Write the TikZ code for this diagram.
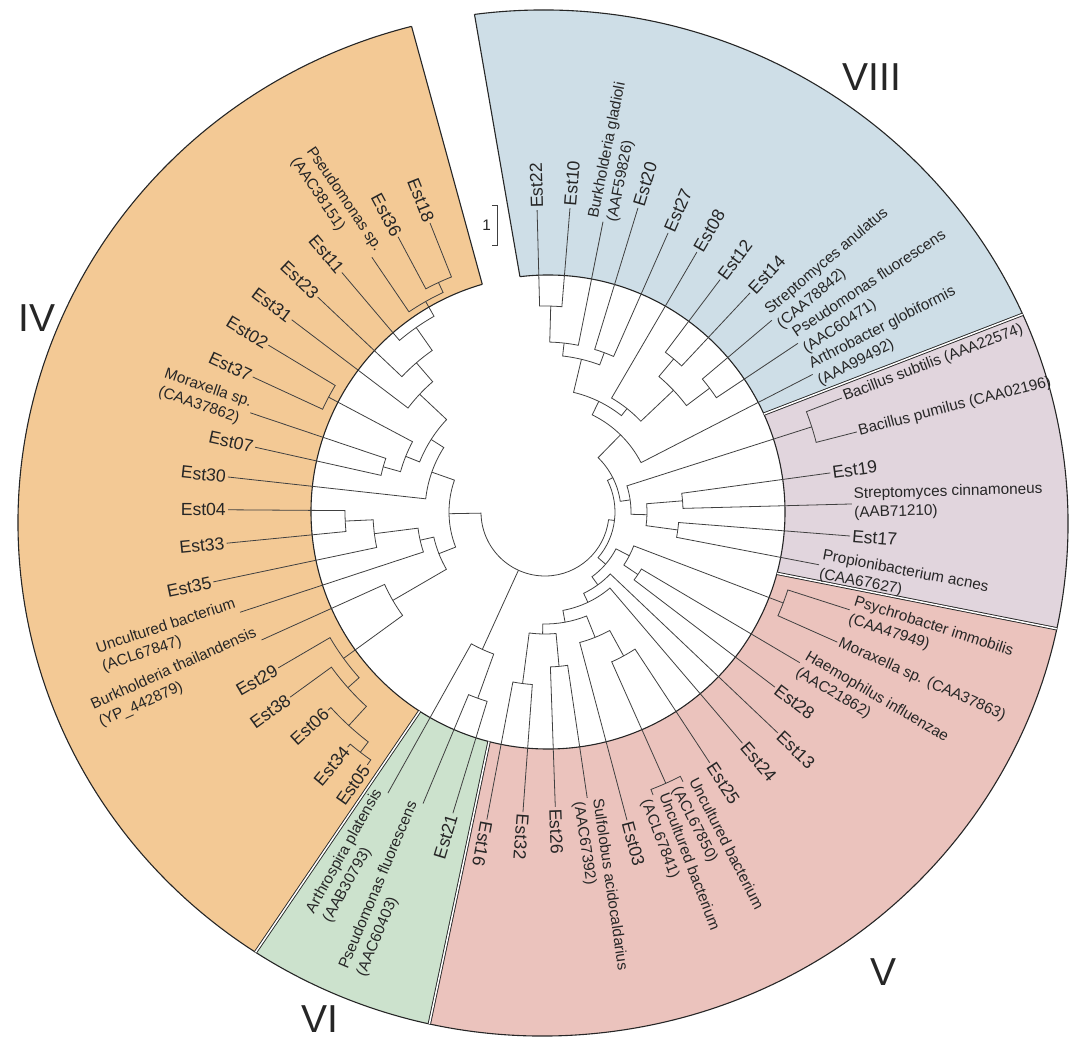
\documentclass[tikz,border=0pt]{standalone}
\usepackage{fontspec}
\setmainfont{Liberation Sans}
\usetikzlibrary{calc, positioning}

% leaf with label reading outwards / inwards
\newcommand\leafout[5]{%
  \expandafter\xdef\csname angle#1\endcsname{#2}%
  \coordinate (#1) at (#2:#3pt);
  \node[#4, rotate=#2, anchor=west] (t#1) at (#1) {#5};}
\newcommand\leafin[5]{%
  \expandafter\xdef\csname angle#1\endcsname{#2}%
  \pgfmathsetmacro\leafrot{#2+180}%
  \coordinate (#1) at (#2:#3pt);
  \node[#4, rotate=\leafrot, anchor=east] (t#1) at (#1) {#5};}
% clade joining two children at a radius
\newcommand\clade[4]{%
  \pgfmathsetmacro\cladeA{\csname angle#3\endcsname}%
  \pgfmathsetmacro\cladeB{\csname angle#4\endcsname}%
  \pgfmathsetmacro\cladeM{(\cladeA+\cladeB)/2}%
  \expandafter\xdef\csname angle#1\endcsname{\cladeM}%
  \coordinate (#1) at (\cladeM:#2pt);
  \draw[branch] (#3) -- (\cladeA:#2pt) arc[start angle=\cladeA, end angle=\cladeB, radius=#2pt] -- (#4);}

\definecolor{fillorange}{RGB}{243,201,149}
\definecolor{fillblue}{RGB}{206,222,231}
\definecolor{fillmauve}{RGB}{225,213,221}
\definecolor{fillpink}{RGB}{235,195,189}
\definecolor{fillgreen}{RGB}{204,226,205}

\begin{document}
\begin{tikzpicture}[
    branch/.style={line width=0.8pt, black!75},
    edge/.style={line width=1.1pt, black!85},
    sep/.style={line width=0.9pt, black!85, double=white, double distance=1.5pt},
    estlabel/.style={font=\fontsize{17.6}{21}\selectfont, text=black!85, inner sep=2pt, align=left},
    spclabel/.style={font=\fontsize{15.3}{19}\selectfont, text=black!85, inner sep=2pt, align=left},
    numeral/.style={font=\fontsize{39}{40}\selectfont, text=black!85}]
    \useasboundingbox (-545pt,-527pt) rectangle (542pt,512pt);

    % Sector corners
    \coordinate (ib0) at ([shift={(3pt,0pt)}]96.8:237pt);
    \coordinate (ob0) at ([shift={(-2pt,-11pt)}]97.5:525pt and 513pt);
    \coordinate (ib1) at ([shift={(3pt,0pt)}]24.4:237pt);
    \coordinate (ob1) at ([shift={(-2pt,-11pt)}]24.0:525pt and 513pt);
    \coordinate (ib2) at ([shift={(3pt,0pt)}]-15.0:237pt);
    \coordinate (ob2) at ([shift={(-2pt,-11pt)}]-11.9:525pt and 513pt);
    \coordinate (ib3) at ([shift={(3pt,0pt)}]-104.4:237pt);
    \coordinate (ob3) at ([shift={(-2pt,-11pt)}]-102.5:525pt and 513pt);
    \coordinate (ib4) at ([shift={(3pt,0pt)}]-122.8:237pt);
    \coordinate (ob4) at ([shift={(-2pt,-11pt)}]-123.2:525pt and 513pt);
    \coordinate (ib5) at ([shift={(3pt,0pt)}]-253.9:237pt);
    \coordinate (ob5) at ([shift={(-2pt,-11pt)}]-255.5:525pt and 513pt);

    % Sectors
    \fill[fillblue] (ib0) -- (ob0) arc[start angle=97.5, end angle=24.0, x radius=525pt, y radius=513pt] -- (ib1) arc[start angle=24.4, end angle=96.8, radius=237pt] -- cycle;
    \fill[fillmauve] (ib1) -- (ob1) arc[start angle=24.0, end angle=-11.9, x radius=525pt, y radius=513pt] -- (ib2) arc[start angle=-15.0, end angle=24.4, radius=237pt] -- cycle;
    \fill[fillpink] (ib2) -- (ob2) arc[start angle=-11.9, end angle=-102.5, x radius=525pt, y radius=513pt] -- (ib3) arc[start angle=-104.4, end angle=-15.0, radius=237pt] -- cycle;
    \fill[fillgreen] (ib3) -- (ob3) arc[start angle=-102.5, end angle=-123.2, x radius=525pt, y radius=513pt] -- (ib4) arc[start angle=-122.8, end angle=-104.4, radius=237pt] -- cycle;
    \fill[fillorange] (ib4) -- (ob4) arc[start angle=-123.2, end angle=-255.5, x radius=525pt, y radius=513pt] -- (ib5) arc[start angle=-253.9, end angle=-122.8, radius=237pt] -- cycle;

    % Outlines
    \draw[edge] (ob0) arc[start angle=97.5, end angle=-255.5, x radius=525pt, y radius=513pt];
    \draw[edge] (ib0) arc[start angle=96.8, end angle=-253.9, radius=237pt];
    \draw[edge] (ib0) -- (ob0);
    \draw[edge] (ib5) -- (ob5);
    \draw[sep] (ib1) -- (ob1);
    \draw[sep] (ib2) -- (ob2);
    \draw[sep] (ib3) -- (ob3);
    \draw[sep] (ib4) -- (ob4);

    % Leaves
    \leafout{est22}{91.5}{302}{estlabel}{Est22}
    \leafout{est10}{85.3}{305}{estlabel}{Est10}
    \leafout{bgla}{78.7}{296}{spclabel}{Burkholderia gladioli\\(AAF59826)}
    \leafout{est20}{73.0}{318}{estlabel}{Est20}
    \leafout{est27}{66.2}{305}{estlabel}{Est27}
    \leafout{est08}{59.7}{301}{estlabel}{Est08}
    \leafout{est12}{53.0}{291}{estlabel}{Est12}
    \leafout{est14}{46.9}{300}{estlabel}{Est14}
    \leafout{sanu}{40.2}{297}{spclabel}{Streptomyces anulatus\\(CAA78842)}
    \leafout{pflu1}{33.7}{304}{spclabel}{Pseudomonas fluorescens\\(AAC60471)}
    \leafout{aglo}{27.2}{301}{spclabel}{Arthrobacter globiformis\\(AAA99492)}
    \leafout{bsub}{21.0}{318}{spclabel}{Bacillus subtilis (AAA22574)}
    \leafout{bpum}{14.4}{322}{spclabel}{Bacillus pumilus (CAA02196)}
    \leafout{est19}{7.8}{288}{estlabel}{Est19}
    \leafout{scin}{1.5}{307}{spclabel}{Streptomyces cinnamoneus\\(AAB71210)}
    \leafout{est17}{-4.5}{306}{estlabel}{Est17}
    \leafout{pacn}{-10.9}{279}{spclabel}{Propionibacterium acnes\\(CAA67627)}
    \leafout{pimm}{-17.8}{320}{spclabel}{Psychrobacter immobilis\\(CAA47949)}
    \leafout{mora1}{-24.0}{320}{spclabel}{Moraxella sp. (CAA37863)}
    \leafout{hinf}{-30.6}{296}{spclabel}{Haemophilus influenzae\\(AAC21862)}
    \leafout{est28}{-37.3}{289}{estlabel}{Est28}
    \leafout{est13}{-43.5}{321}{estlabel}{Est13}
    \leafout{est24}{-49.5}{304}{estlabel}{Est24}
    \leafout{est25}{-56.7}{300}{estlabel}{Est25}
    \leafout{unc1}{-62.9}{303}{spclabel}{Uncultured bacterium\\(ACL67850)}
    \leafout{unc2}{-69.1}{303}{spclabel}{Uncultured bacterium\\(ACL67841)}
    \leafout{est03}{-75.1}{319}{estlabel}{Est03}
    \leafout{saci}{-81.6}{289}{spclabel}{Sulfolobus acidocaldarius\\(AAC67392)}
    \leafout{est26}{-88.0}{295}{estlabel}{Est26}
    \leafout{est32}{-94.2}{301}{estlabel}{Est32}
    \leafout{est16}{-100.7}{313}{estlabel}{Est16}
    \leafin{est21}{-107.0}{315}{estlabel}{Est21}
    \leafin{pflu2}{-112.7}{316}{spclabel}{Pseudomonas fluorescens\\(AAC60403)}
    \leafin{apla}{-119.2}{322}{spclabel}{Arthrospira platensis\\(AAB30793)}
    \leafin{est05}{-125.1}{309}{estlabel}{Est05}
    \leafin{est34}{-130.0}{307}{estlabel}{Est34}
    \leafin{est06}{-137.6}{294}{estlabel}{Est06}
    \leafin{est38}{-144.0}{315}{estlabel}{Est38}
    \leafin{est29}{-149.7}{309}{estlabel}{Est29}
    \leafin{btha}{-155.7}{311}{spclabel}{Burkholderia thailandensis\\(YP\_442879)}
    \leafin{unc3}{-161.8}{321}{spclabel}{Uncultured bacterium\\(ACL67847)}
    \leafin{est35}{-168.1}{339}{estlabel}{Est35}
    \leafin{est33}{-174.4}{320}{estlabel}{Est33}
    \leafin{est04}{-180.4}{317}{estlabel}{Est04}
    \leafin{est30}{-186.3}{319}{estlabel}{Est30}
    \leafin{est07}{-192.6}{297}{estlabel}{Est07}
    \leafin{mora2}{-198.6}{311}{spclabel}{Moraxella sp.\\(CAA37862)}
    \leafin{est37}{-204.8}{322}{estlabel}{Est37}
    \leafin{est02}{-211.1}{323}{estlabel}{Est02}
    \leafin{est31}{-217.2}{318}{estlabel}{Est31}
    \leafin{est23}{-223.4}{313}{estlabel}{Est23}
    \leafin{est11}{-229.7}{314}{estlabel}{Est11}
    \leafin{pseu}{-235.8}{308}{spclabel}{Pseudomonas sp.\\(AAC38151)}
    \leafin{est36}{-241.9}{312}{estlabel}{Est36}
    \leafin{est18}{-248.3}{311}{estlabel}{Est18}

    % Clades: VIII
    \clade{a1}{206}{est22}{est10}
    \clade{a2}{170}{a1}{bgla}
    \clade{a3}{170}{est20}{est27}
    \clade{a4}{157}{a2}{a3}
    \clade{b1}{200}{est12}{est14}
    \clade{b3}{206}{sanu}{pflu1}
    \clade{b4}{177}{b1}{b3}
    \clade{c1}{132}{est08}{b4}
    \clade{a6}{123}{a4}{c1}
    \clade{a7}{108}{a6}{aglo}
    % Clades: right sector
    \clade{d1}{280}{bsub}{bpum}
    \clade{e1}{138}{est19}{scin}
    \clade{e2}{134}{est17}{pacn}
    \clade{e3}{102}{e1}{e2}
    \clade{e4}{86}{d1}{e3}
    \clade{t1}{76}{a7}{e4}
    % Clades: V
    \clade{f1}{255}{pimm}{mora1}
    \clade{f3}{112}{hinf}{est28}
    \clade{f2}{95}{f1}{f3}
    \clade{h1}{297}{unc1}{unc2}
    \clade{g1}{164}{est25}{h1}
    \clade{u3}{135}{g1}{est03}
    \clade{u2}{155}{saci}{est26}
    \clade{u1}{173}{est32}{est16}
    \clade{u4}{122}{u2}{u1}
    \clade{u5}{112}{u3}{u4}
    \clade{w1}{100}{est24}{u5}
    \clade{w2}{90}{est13}{w1}
    \clade{w3}{80}{f2}{w2}
    \clade{t2}{70}{t1}{w3}
    % Clades: VI
    \clade{k2}{198}{est21}{pflu2}
    \clade{k1}{151}{k2}{apla}
    % Clades: IV
    \clade{j5}{303}{est05}{est34}
    \clade{m1}{290}{est06}{j5}
    \clade{m2}{264}{est38}{m1}
    \clade{m3}{249}{est29}{m2}
    \clade{l1}{176}{btha}{m3}
    \clade{n1}{200}{est33}{est04}
    \clade{n2}{172}{est35}{n1}
    \clade{n3}{128}{unc3}{n2}
    \clade{l2}{114}{l1}{n3}
    \clade{q2}{168}{est07}{mora2}
    \clade{q1}{245}{est37}{est02}
    \clade{q3}{150}{q2}{q1}
    \clade{r1}{253}{est36}{est18}
    \clade{r2}{242}{pseu}{r1}
    \clade{r3}{225}{est11}{r2}
    \clade{r4}{197}{est23}{r3}
    \clade{r5}{172}{est31}{r4}
    \clade{r6}{135}{q3}{r5}
    \clade{p1}{120}{est30}{r6}
    \clade{p2}{96}{l2}{p1}
    % Root
    \clade{root}{64}{p2}{t2}
    \pgfmathsetmacro\kone{\csname anglek1\endcsname}
    \draw[branch] (k1) -- (\kone:64pt);

    % Scale bar
    \coordinate (sbtop) at (-48pt,307pt);
    \coordinate (sbbot) at (-48pt,267pt);
    \draw[branch] ([xshift=-5pt]sbtop) -- (sbtop) -- (sbbot) -- ([xshift=-5pt]sbbot);
    \node[spclabel, left=4pt] (sblabel) at ($(sbtop)!0.5!(sbbot)$) {1};

    % Group numerals
    \node[numeral] (gviii) at (327pt,435pt) {VIII};
    \node[numeral] (giv) at (-508pt,194pt) {IV};
    \node[numeral] (gvi) at (-225pt,-507pt) {VI};
    \node[numeral] (gv) at (339pt,-460pt) {V};
\end{tikzpicture}
\end{document}
